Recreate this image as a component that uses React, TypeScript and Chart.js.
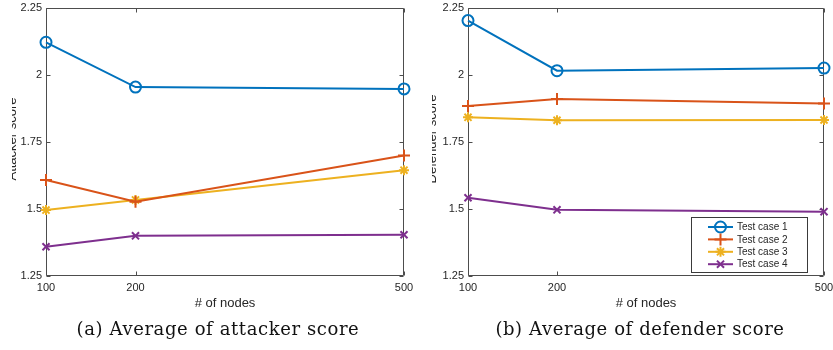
import React, { useEffect, useRef } from 'react';
import { Chart, registerables } from 'chart.js';

Chart.register(...registerables);

// ---- data ----
const nodes = [100, 200, 500];
const xTicks = [100, 200, 500];
const yTicks = [1.25, 1.5, 1.75, 2, 2.25];
const seriesNames = ['Test case 1', 'Test case 2', 'Test case 3', 'Test case 4'];

const attackerCase1 = [2.122, 1.955, 1.948];
const attackerCase2 = [1.608, 1.527, 1.7];
const attackerCase3 = [1.496, 1.534, 1.645];
const attackerCase4 = [1.359, 1.4, 1.404];

const defenderCase1 = [2.203, 2.016, 2.026];
const defenderCase2 = [1.884, 1.91, 1.894];
const defenderCase3 = [1.842, 1.831, 1.832];
const defenderCase4 = [1.542, 1.497, 1.49];

const xTitle = '# of nodes';
const yTitleA = 'Attacker score';
const yTitleB = 'Defender score';
const captionA = '(a) Average of attacker score';
const captionB = '(b) Average of defender score';

// ---- style ----
const colors = ['#0072BD', '#D95319', '#EDB120', '#7E2F8E'];
const pointStyles: any[] = ['circle', 'cross', 'star', 'crossRot'];
const pointRadii = [5.5, 6, 5, 5];
const AXIS = '#4d4d4d';
const TXT = '#262626';
const SANS = "'Liberation Sans', Arial, Helvetica, sans-serif";

function drawMarker(ctx: CanvasRenderingContext2D, style: string, r: number, x: number, y: number) {
  ctx.beginPath();
  const d = r * Math.SQRT1_2;
  if (style === 'circle') {
    ctx.arc(x, y, r, 0, Math.PI * 2);
  } else if (style === 'cross') {
    ctx.moveTo(x - r, y); ctx.lineTo(x + r, y);
    ctx.moveTo(x, y - r); ctx.lineTo(x, y + r);
  } else if (style === 'crossRot') {
    ctx.moveTo(x - d, y - d); ctx.lineTo(x + d, y + d);
    ctx.moveTo(x - d, y + d); ctx.lineTo(x + d, y - d);
  } else if (style === 'star') {
    ctx.moveTo(x - r, y); ctx.lineTo(x + r, y);
    ctx.moveTo(x, y - r); ctx.lineTo(x, y + r);
    ctx.moveTo(x - d, y - d); ctx.lineTo(x + d, y + d);
    ctx.moveTo(x - d, y + d); ctx.lineTo(x + d, y - d);
  }
  ctx.stroke();
}

const framePlugin = {
  id: 'matlabFrame',
  beforeDatasetsDraw(chart: any) {
    const { ctx, chartArea: a, scales } = chart;
    ctx.save();
    ctx.strokeStyle = AXIS;
    ctx.lineWidth = 1;
    const L = 4;
    const l = Math.round(a.left) + 0.5;
    const r = Math.round(a.right) - 0.5;
    const t = Math.round(a.top) + 0.5;
    const b = Math.round(a.bottom) - 0.5;
    ctx.beginPath();
    ctx.rect(l, t, r - l, b - t);
    scales.x.ticks.forEach((tk: any) => {
      const px = Math.round(scales.x.getPixelForValue(tk.value)) + 0.5;
      ctx.moveTo(px, b); ctx.lineTo(px, b - L);
      ctx.moveTo(px, t); ctx.lineTo(px, t + L);
    });
    scales.y.ticks.forEach((tk: any) => {
      const py = Math.round(scales.y.getPixelForValue(tk.value)) + 0.5;
      ctx.moveTo(l, py); ctx.lineTo(l + L, py);
      ctx.moveTo(r, py); ctx.lineTo(r - L, py);
    });
    ctx.stroke();
    ctx.restore();
  },
  afterDraw(chart: any, _args: any, opts: any) {
    const { ctx, chartArea: a } = chart;
    ctx.save();
    ctx.fillStyle = TXT;
    ctx.font = `13px ${SANS}`;
    ctx.textAlign = 'center';
    ctx.textBaseline = 'middle';
    ctx.fillText(opts.xTitle, (a.left + a.right) / 2, a.bottom + 27);
    // clipped y title (as in the reference)
    ctx.save();
    ctx.beginPath();
    ctx.rect(opts.clipX, 0, 2000, chart.height);
    ctx.clip();
    ctx.translate(opts.yTitleX, (a.top + a.bottom) / 2 - 3);
    ctx.rotate(-Math.PI / 2);
    ctx.textBaseline = 'alphabetic';
    ctx.fillText(opts.yTitle, 0, 0);
    ctx.restore();

    if (opts.legend) {
      const w = 116, h = 55;
      const x0 = Math.round(a.right - 17 - w);
      const y0 = Math.round(a.bottom - 4 - h);
      ctx.fillStyle = '#ffffff';
      ctx.fillRect(x0, y0, w, h);
      ctx.strokeStyle = '#3a3a3a';
      ctx.lineWidth = 1;
      ctx.strokeRect(x0 + 0.5, y0 + 0.5, w, h);
      ctx.font = `10px ${SANS}`;
      ctx.textAlign = 'left';
      ctx.textBaseline = 'middle';
      chart.data.datasets.forEach((ds: any, i: number) => {
        const yy = y0 + 10 + i * 12.4;
        ctx.strokeStyle = ds.borderColor;
        ctx.lineWidth = 2;
        ctx.beginPath();
        ctx.moveTo(x0 + 17, yy);
        ctx.lineTo(x0 + 42, yy);
        ctx.stroke();
        drawMarker(ctx, ds.pointStyle, ds.pointRadius, x0 + 29.5, yy);
        ctx.fillStyle = TXT;
        ctx.fillText(ds.label, x0 + 46, yy + 0.5);
      });
    }
    ctx.restore();
  },
};

function buildDatasets(series: number[][]) {
  return series.map((vals, i) => ({
    label: seriesNames[i],
    data: nodes.map((x, j) => ({ x, y: vals[j] })),
    borderColor: colors[i],
    backgroundColor: 'rgba(0,0,0,0)',
    pointBackgroundColor: 'rgba(0,0,0,0)',
    pointBorderColor: colors[i],
    pointStyle: pointStyles[i],
    pointRadius: pointRadii[i],
    pointBorderWidth: 2,
    borderWidth: 2,
    tension: 0,
    clip: false as any,
  }));
}

function Plot(props: {
  series: number[][];
  width: number;
  left: number;
  yAxisWidth: number;
  padRight: number;
  yTitle: string;
  yTitleX: number;
  clipX: number;
  legend: boolean;
}) {
  const ref = useRef<HTMLCanvasElement>(null);
  useEffect(() => {
    const chart = new Chart(ref.current as HTMLCanvasElement, {
      type: 'line',
      data: { datasets: buildDatasets(props.series) as any },
      options: {
        animation: false,
        responsive: false,
        events: [],
        layout: { padding: { top: 8, right: props.padRight, left: 0, bottom: 0 } },
        plugins: {
          legend: { display: false },
          tooltip: { enabled: false },
          matlabFrame: {
            xTitle,
            yTitle: props.yTitle,
            yTitleX: props.yTitleX,
            clipX: props.clipX,
            legend: props.legend,
          },
        } as any,
        scales: {
          x: {
            type: 'linear',
            min: 100,
            max: 500,
            grid: { display: false, drawTicks: false },
            border: { display: false },
            afterBuildTicks: (s: any) => { s.ticks = xTicks.map((v) => ({ value: v })); },
            afterFit: (s: any) => { s.height = 74; s.paddingLeft = 0; s.paddingRight = 0; },
            ticks: {
              padding: 5,
              maxRotation: 0,
              color: TXT,
              font: { family: SANS, size: 11 },
              callback: (v: any) => String(v),
            },
          },
          y: {
            type: 'linear',
            min: 1.25,
            max: 2.25,
            grid: { display: false, drawTicks: false },
            border: { display: false },
            afterBuildTicks: (s: any) => { s.ticks = yTicks.map((v) => ({ value: v })); },
            afterFit: (s: any) => { s.width = props.yAxisWidth; s.paddingTop = 0; s.paddingBottom = 0; },
            ticks: {
              padding: 4,
              color: TXT,
              font: { family: SANS, size: 11 },
              callback: (v: any) => String(v),
            },
          },
        },
      },
      plugins: [framePlugin as any],
    });
    return () => chart.destroy();
  }, []);
  return (
    <canvas
      ref={ref}
      width={props.width}
      height={350}
      style={{ position: 'absolute', left: props.left, top: 0, width: props.width, height: 350 }}
    />
  );
}

const captionStyle: React.CSSProperties = {
  position: 'absolute',
  top: 317,
  textAlign: 'center',
  fontFamily: "'DejaVu Serif', 'Liberation Serif', serif",
  fontSize: 18,
  letterSpacing: '0.6px',
  lineHeight: '24px',
  color: '#111',
  whiteSpace: 'nowrap',
};

export default function App() {
  return (
    <div style={{ position: 'absolute', left: 0, top: 0, width: 833, height: 350, background: '#fff', overflow: 'hidden' }}>
      <Plot
        series={[attackerCase1, attackerCase2, attackerCase3, attackerCase4]}
        width={416}
        left={0}
        yAxisWidth={46}
        padRight={12}
        yTitle={yTitleA}
        yTitleX={16}
        clipX={12}
        legend={false}
      />
      <Plot
        series={[defenderCase1, defenderCase2, defenderCase3, defenderCase4]}
        width={430}
        left={416}
        yAxisWidth={52}
        padRight={22}
        yTitle={yTitleB}
        yTitleX={20}
        clipX={16}
        legend={true}
      />
      <div style={{ ...captionStyle, left: 0, width: 436 }}>{captionA}</div>
      <div style={{ ...captionStyle, left: 416, width: 448 }}>{captionB}</div>
    </div>
  );
}
